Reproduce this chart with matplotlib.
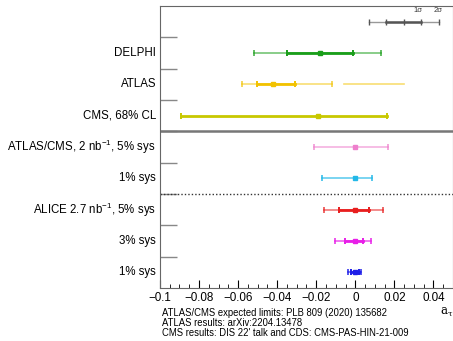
import matplotlib
matplotlib.use("Agg")
import matplotlib.pyplot as plt
from matplotlib.ticker import MultipleLocator

plt.rcParams['font.family'] = ['Liberation Sans', 'DejaVu Sans']
plt.rcParams['mathtext.default'] = 'regular'

# rows, top to bottom
labels = ["DELPHI", "ATLAS", "CMS, 68% CL",
          "ATLAS/CMS, 2 nb$^{-1}$, 5% sys", "1% sys",
          "ALICE 2.7 nb$^{-1}$, 5% sys", "3% sys", "1% sys"]
centers = [-0.018, -0.042, -0.019, 0.0, 0.0, 0.0, 0.0, 0.0]
inner_lo = [-0.035, -0.0505, -0.089, None, None, -0.0085, -0.0051, -0.0022]
inner_hi = [-0.001, -0.031, 0.016, None, None, 0.007, 0.0039, 0.0017]
outer_lo = [-0.052, -0.058, None, -0.0213, -0.0172, -0.0162, -0.0106, -0.0037]
outer_hi = [0.013, -0.012, None, 0.0167, 0.0088, 0.0144, 0.0082, 0.0029]
outer_alpha = [0.6, 0.55, 1, 0.6, 0.7, 0.6, 0.7, 0.7]
colors = ["#1a9e1a", "#f2c200", "#c8c800", "#ee7fcc", "#22b8e8",
          "#e81e1e", "#e81ee8", "#1e1ee8"]
# extra ATLAS 2 sigma island
atlas_extra = (-0.006, 0.025)

# legend key (1 sigma / 2 sigma)
key = [0.0068, 0.0157, 0.0247, 0.0338, 0.0429]

fig = plt.figure(figsize=(4.53, 3.41), dpi=100)
ax = fig.add_axes([0.353, 0.155, 0.647, 0.827])

n = len(labels)
ys = [n - 0.5 - i for i in range(n)]

for i in range(n):
    y = ys[i]
    c = colors[i]
    if outer_lo[i] is not None:
        ax.plot([outer_lo[i], outer_hi[i]], [y, y], color=c, lw=1.2, alpha=outer_alpha[i])
        ax.plot([outer_lo[i], outer_hi[i]], [y, y], ls='none', marker='|', ms=5, mew=1.2,
                color=c, alpha=outer_alpha[i] + 0.2 if outer_alpha[i] < 0.8 else 1)
    if inner_lo[i] is not None:
        ax.plot([inner_lo[i], inner_hi[i]], [y, y], color=c, lw=2.0)
        ax.plot([inner_lo[i], inner_hi[i]], [y, y], ls='none', marker='|', ms=5, mew=1.4, color=c)
    ax.plot(centers[i], y, marker='s', ms=2.6, color=c)

ax.plot(atlas_extra, [ys[1], ys[1]], color=colors[1], lw=1.2, alpha=0.55)

yk = n + 0.5
ax.plot([key[0], key[4]], [yk, yk], color="#555555", lw=1.0, alpha=0.6)
ax.plot([key[1], key[3]], [yk, yk], color="#555555", lw=1.8)
ax.plot(key, [yk] * 5, ls='none', marker='|', ms=4, mew=1, color="#555555")
ax.text(key[3] - 0.0015, yk + 0.25, "1σ", fontsize=5.5, ha='center', va='bottom', color="#333333")
ax.text(key[4] - 0.0005, yk + 0.25, "2σ", fontsize=5.5, ha='center', va='bottom', color="#333333")

ax.axhline(5, color="#777777", lw=1.8)
ax.axhline(3, color="#333333", lw=1.0, ls=(0, (1, 1.5)))

ax.set_xlim(-0.1, 0.05)
ax.set_ylim(0, n + 1)
ax.set_yticks([1, 2, 3, 4, 5, 6, 7, 8])
ax.set_yticklabels([])
ax.tick_params(axis='y', direction='in', length=12, width=1, color="#888888")
for i in range(n):
    ax.text(-0.102, ys[i], labels[i], ha='right', va='center', fontsize=8.3,
            transform=ax.transData, clip_on=False)

ax.xaxis.set_major_locator(MultipleLocator(0.02))
ax.xaxis.set_minor_locator(MultipleLocator(0.005))
ax.tick_params(axis='x', which='major', direction='in', length=6, labelsize=8.4, pad=3)
ax.tick_params(axis='x', which='minor', direction='in', length=3)
ax.set_xticks([-0.1, -0.08, -0.06, -0.04, -0.02, 0, 0.02, 0.04])
ax.set_xticklabels(["\u22120.1", "\u22120.08", "\u22120.06", "\u22120.04", "\u22120.02",
                    "0", "0.02", "0.04"])
for s in ax.spines.values():
    s.set_color("#666666")

fig.text(440 / 453, 1 - 311 / 341, r"$a_\tau$", fontsize=8.5, ha='left', va='center',
         family='DejaVu Serif')

notes = ["ATLAS/CMS expected limits: PLB 809 (2020) 135682",
         "ATLAS results: arXiv:2204.13478",
         "CMS results: DIS 22' talk and CDS: CMS-PAS-HIN-21-009"]
for j, t in enumerate(notes):
    fig.text(162 / 453, 1 - (313 + 10 * j) / 341, t, fontsize=6.85, ha='left', va='center')

fig.savefig("out.png", dpi=100)
